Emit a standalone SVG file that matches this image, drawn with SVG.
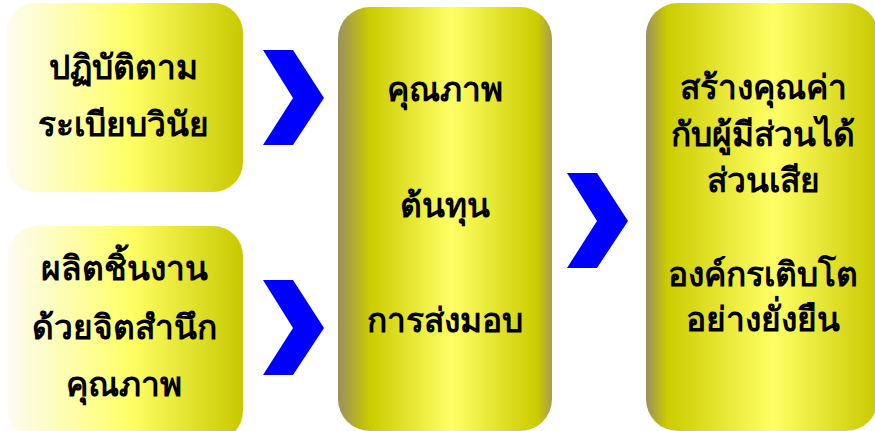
<svg xmlns="http://www.w3.org/2000/svg" width="875" height="431" viewBox="0 0 875 431">
  <defs>
    <linearGradient id="gLeft" x1="0" y1="0" x2="1" y2="0">
      <stop offset="0" stop-color="#fdfcf2"/>
      <stop offset="0.52" stop-color="#ffff66"/>
      <stop offset="1" stop-color="#c9c900"/>
    </linearGradient>
    <linearGradient id="gMid" x1="0" y1="0" x2="1" y2="0">
      <stop offset="0" stop-color="#9a9060"/>
      <stop offset="0.15" stop-color="#cccc00"/>
      <stop offset="0.53" stop-color="#ffff66"/>
      <stop offset="0.93" stop-color="#cccc00"/>
      <stop offset="1" stop-color="#a89c50"/>
    </linearGradient>
    <linearGradient id="gRight" x1="0" y1="0" x2="1" y2="0">
      <stop offset="0" stop-color="#9a9060"/>
      <stop offset="0.09" stop-color="#cccc00"/>
      <stop offset="0.55" stop-color="#ffff66"/>
      <stop offset="1" stop-color="#c9c900"/>
    </linearGradient>
    <polygon id="chev" points="0,0 30,0 61,48 30,95 0,95 30,48"/>
  </defs>
  <style>
    .lbl { font-family: "Noto Sans", "DejaVu Sans", sans-serif; font-weight: bold; font-size: 33.5px; fill: #000; text-anchor: middle; }
    .arrow { fill: #0000ff; }
  </style>
  <rect width="875" height="431" fill="#ffffff"/>

  <g id="node-discipline">
    <rect x="6" y="3" width="237" height="189" rx="30" ry="30" fill="url(#gLeft)"/>
    <text class="lbl" x="123" y="79">ปฏิบัติตาม</text>
    <text class="lbl" x="123" y="136">ระเบียบวินัย</text>
  </g>

  <g id="node-produce">
    <rect x="8" y="226" width="235" height="215" rx="30" ry="30" fill="url(#gLeft)"/>
    <text class="lbl" x="124" y="280">ผลิตชิ้นงาน</text>
    <text class="lbl" x="124" y="339">ด้วยจิตสำนึก</text>
    <text class="lbl" x="124" y="396">คุณภาพ</text>
  </g>

  <g id="node-qcd">
    <rect x="338" y="7" width="214" height="424" rx="32" ry="32" fill="url(#gMid)"/>
    <text class="lbl" x="445" y="101">คุณภาพ</text>
    <text class="lbl" x="445" y="217">ต้นทุน</text>
    <text class="lbl" x="445" y="332">การส่งมอบ</text>
  </g>

  <g id="node-value">
    <rect x="646" y="3" width="232" height="428" rx="32" ry="32" fill="url(#gRight)"/>
    <text class="lbl" x="763" y="99">สร้างคุณค่า</text>
    <text class="lbl" x="763" y="146">กับผู้มีส่วนได้</text>
    <text class="lbl" x="763" y="192">ส่วนเสีย</text>
    <text class="lbl" x="763" y="286">องค์กรเติบโต</text>
    <text class="lbl" x="763" y="331">อย่างยั่งยืน</text>
  </g>

  <g id="connectors">
    <use href="#chev" class="arrow" x="263" y="50"/>
    <use href="#chev" class="arrow" x="263" y="280"/>
    <use href="#chev" class="arrow" x="567" y="173"/>
  </g>
</svg>
